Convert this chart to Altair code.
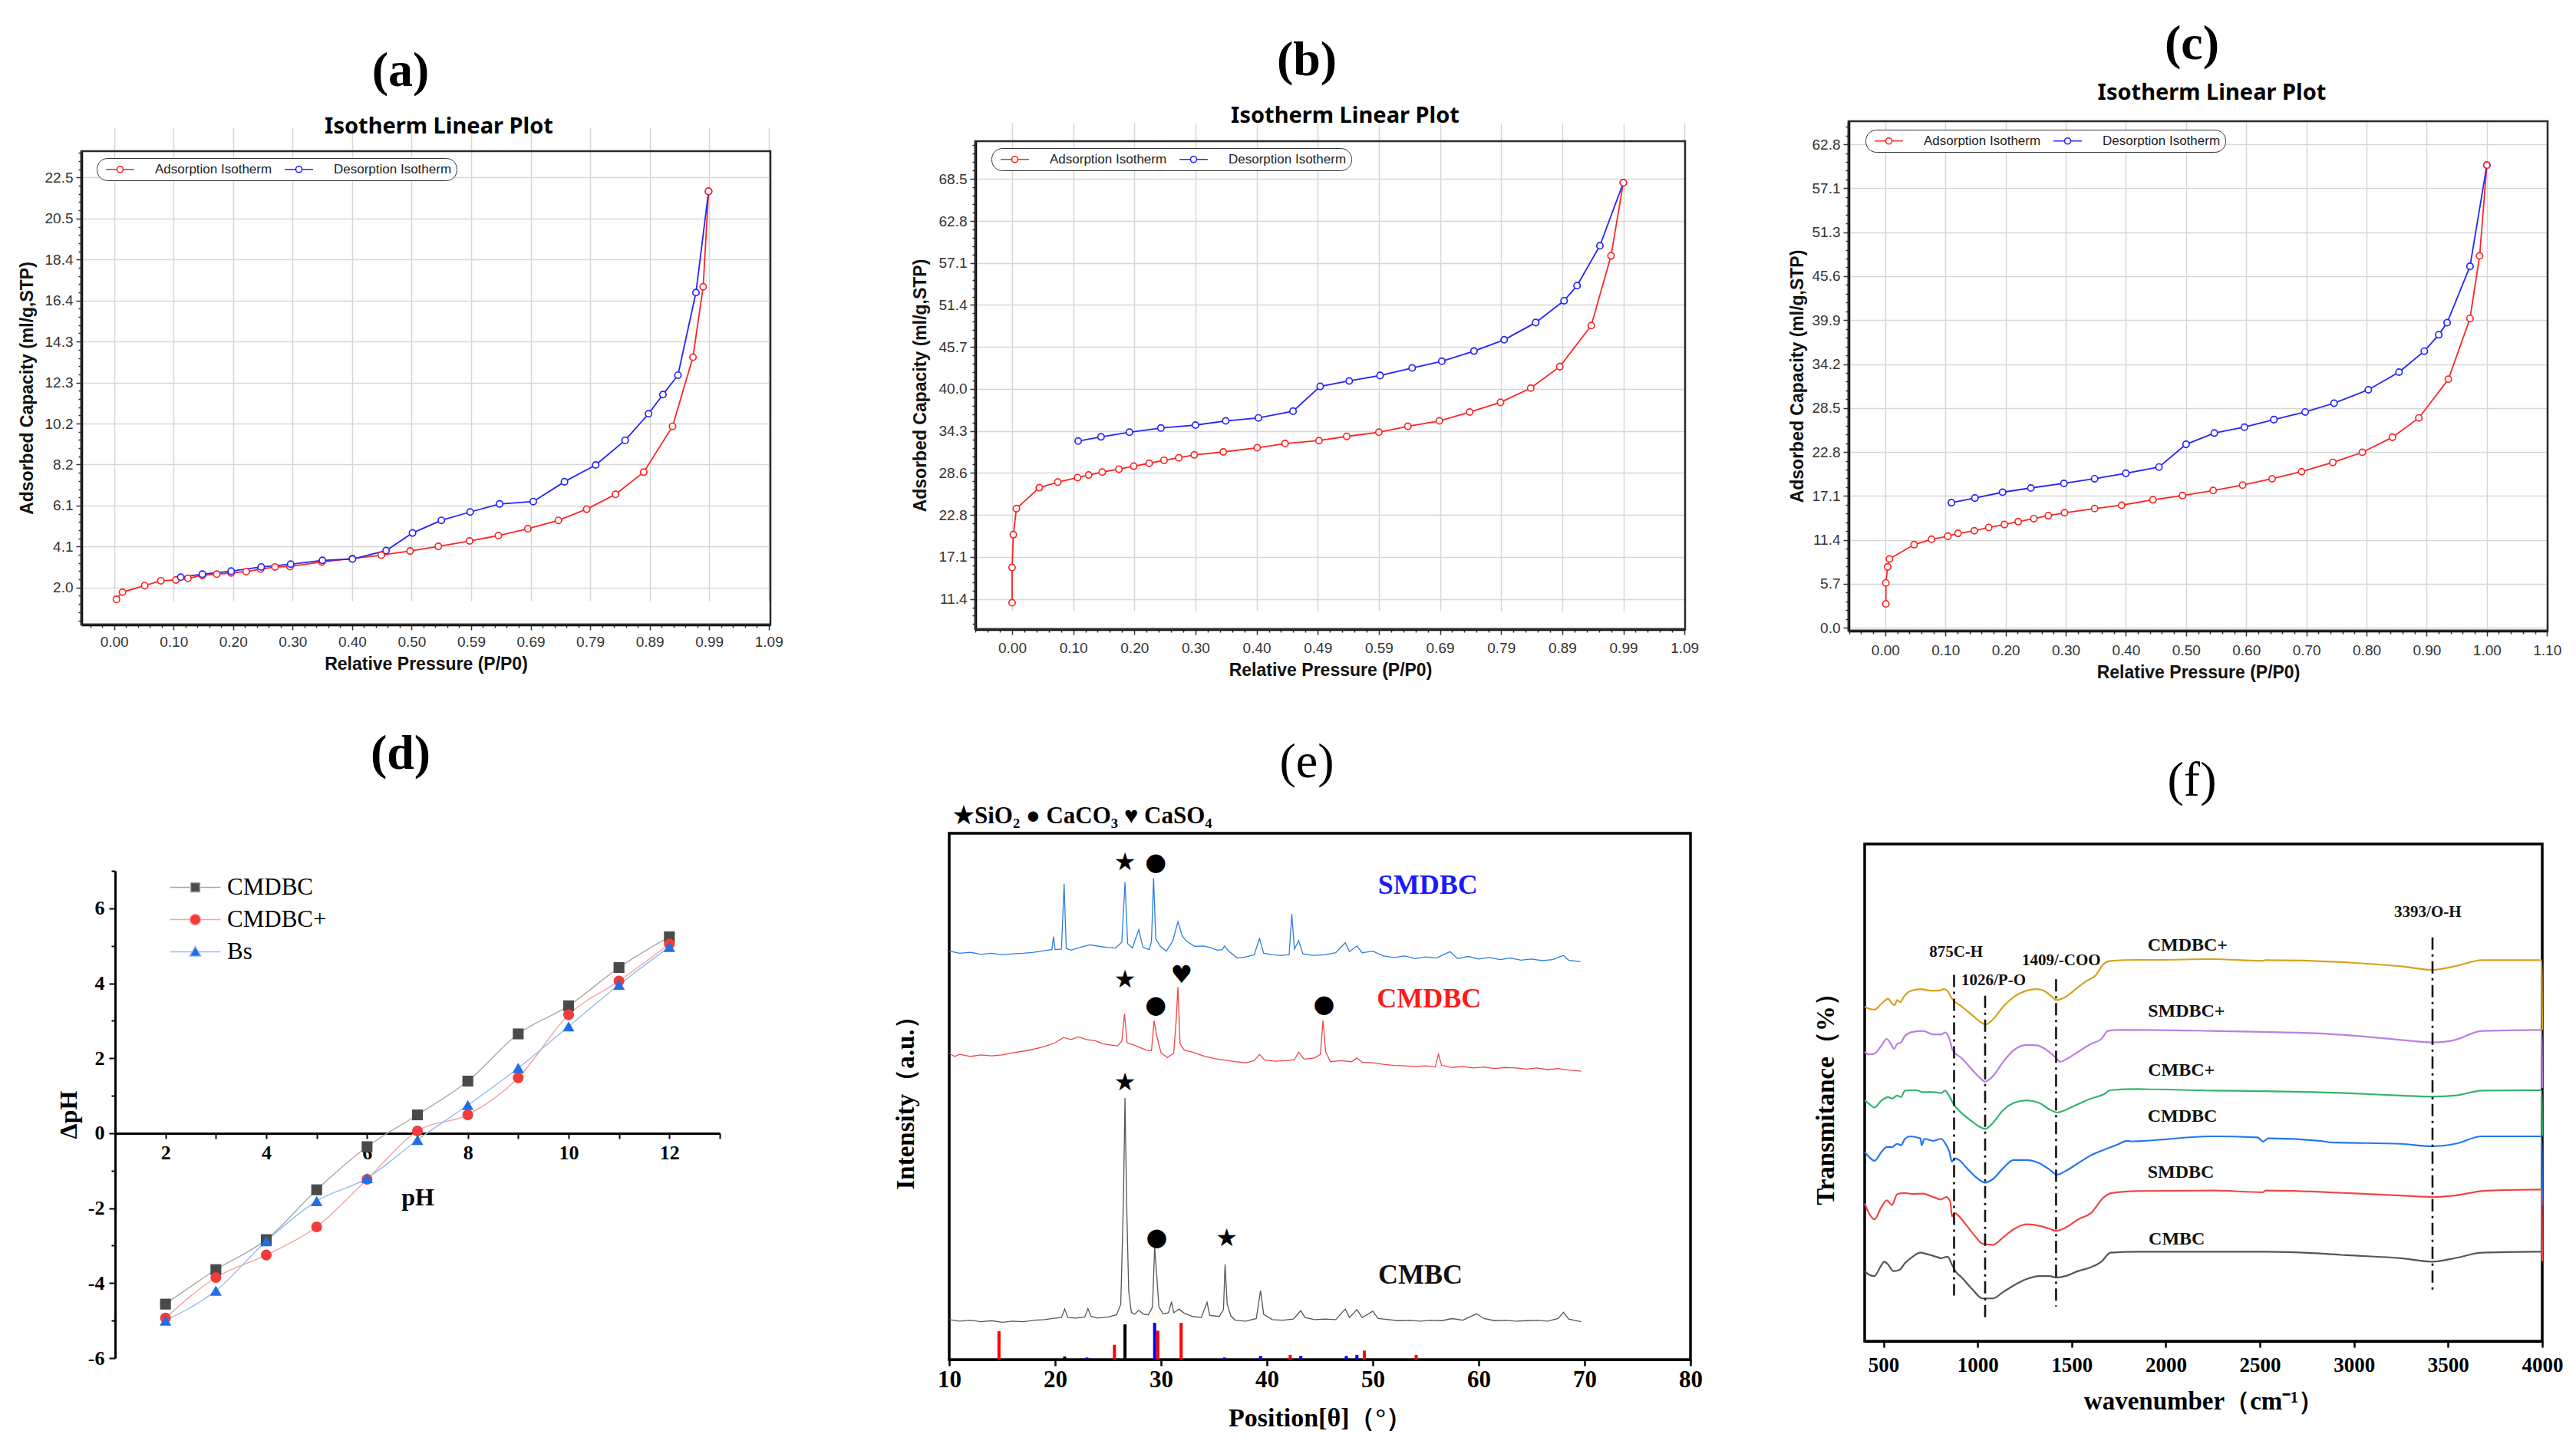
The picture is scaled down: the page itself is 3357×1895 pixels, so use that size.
import math
import altair as alt
import pandas as pd

SERIF = "Liberation Serif"
SANS = "Liberation Sans"

# ============================ DATA ============================
ADS = "Adsorption Isotherm"
DES = "Desorption Isotherm"

# (a)
a_ads_p = [0.004, 0.014, 0.051, 0.078, 0.103, 0.123, 0.147, 0.171, 0.195, 0.220, 0.244, 0.268, 0.293, 0.346, 0.397, 0.445, 0.493, 0.540, 0.592, 0.640, 0.689, 0.740, 0.787, 0.835, 0.882, 0.930, 0.964, 0.981, 0.990]
a_ads_v = [1.41, 1.77, 2.10, 2.34, 2.38, 2.46, 2.61, 2.67, 2.73, 2.80, 2.92, 3.03, 3.05, 3.28, 3.45, 3.62, 3.83, 4.06, 4.33, 4.60, 4.94, 5.36, 5.92, 6.66, 7.77, 10.06, 13.52, 17.04, 21.81]
a_des_p = [0.990, 0.969, 0.939, 0.914, 0.890, 0.851, 0.802, 0.750, 0.698, 0.642, 0.593, 0.545, 0.497, 0.453, 0.397, 0.347, 0.294, 0.245, 0.195, 0.147, 0.111]
a_des_v = [21.81, 16.75, 12.62, 11.65, 10.69, 9.36, 8.13, 7.29, 6.30, 6.18, 5.78, 5.36, 4.73, 3.85, 3.43, 3.36, 3.17, 3.03, 2.82, 2.67, 2.52]
a_x_labels = ["0.00", "0.10", "0.20", "0.30", "0.40", "0.50", "0.59", "0.69", "0.79", "0.89", "0.99", "1.09"]
a_y_labels = ["2.0", "4.1", "6.1", "8.2", "10.2", "12.3", "14.3", "16.4", "18.4", "20.5", "22.5"]

# (b)
b_ads_p = [0.000, 0.000, 0.002, 0.007, 0.044, 0.074, 0.106, 0.124, 0.146, 0.173, 0.197, 0.222, 0.246, 0.270, 0.295, 0.342, 0.397, 0.442, 0.497, 0.542, 0.594, 0.641, 0.692, 0.741, 0.791, 0.840, 0.887, 0.938, 0.970, 0.990]
b_ads_v = [10.89, 15.68, 20.14, 23.68, 26.53, 27.28, 27.90, 28.25, 28.65, 29.05, 29.45, 29.85, 30.25, 30.59, 30.99, 31.39, 31.96, 32.53, 32.93, 33.50, 34.07, 34.87, 35.61, 36.81, 38.13, 40.07, 42.98, 48.58, 58.06, 68.0]
b_des_p = [0.990, 0.952, 0.915, 0.894, 0.848, 0.797, 0.748, 0.696, 0.648, 0.596, 0.546, 0.499, 0.455, 0.399, 0.346, 0.297, 0.241, 0.190, 0.144, 0.107]
b_des_v = [68.0, 59.43, 54.0, 51.95, 48.98, 46.64, 45.1, 43.72, 42.81, 41.78, 41.04, 40.30, 36.93, 36.01, 35.61, 35.04, 34.64, 34.07, 33.44, 32.87]
b_x_labels = ["0.00", "0.10", "0.20", "0.30", "0.40", "0.49", "0.59", "0.69", "0.79", "0.89", "0.99", "1.09"]
b_y_labels = ["11.4", "17.1", "22.8", "28.6", "34.3", "40.0", "45.7", "51.4", "57.1", "62.8", "68.5"]

# (c)
c_ads_p = [0.001, 0.001, 0.004, 0.007, 0.048, 0.077, 0.104, 0.121, 0.148, 0.172, 0.198, 0.221, 0.247, 0.271, 0.298, 0.348, 0.393, 0.445, 0.494, 0.545, 0.594, 0.643, 0.692, 0.744, 0.793, 0.843, 0.887, 0.936, 0.972, 0.988, 1.000]
c_ads_v = [3.11, 5.83, 7.91, 8.94, 10.80, 11.50, 11.89, 12.27, 12.60, 13.03, 13.41, 13.79, 14.18, 14.56, 14.94, 15.49, 15.92, 16.63, 17.18, 17.83, 18.54, 19.36, 20.28, 21.48, 22.79, 24.75, 27.26, 32.28, 40.19, 48.31, 60.09]
c_des_p = [1.000, 0.972, 0.934, 0.920, 0.896, 0.854, 0.803, 0.746, 0.698, 0.646, 0.597, 0.547, 0.500, 0.455, 0.400, 0.348, 0.297, 0.242, 0.195, 0.149, 0.110]
c_des_v = [60.09, 46.95, 39.64, 38.06, 35.93, 33.21, 30.92, 29.17, 28.03, 27.04, 26.06, 25.30, 23.83, 20.88, 20.07, 19.36, 18.76, 18.16, 17.61, 16.85, 16.25]
c_x_labels = ["0.00", "0.10", "0.20", "0.30", "0.40", "0.50", "0.60", "0.70", "0.80", "0.90", "1.00", "1.10"]
c_y_labels = ["0.0", "5.7", "11.4", "17.1", "22.8", "28.5", "34.2", "39.9", "45.6", "51.3", "57.1", "62.8"]

# (d)
d_series = ["CMDBC", "CMDBC+", "Bs"]
d_ph = [2, 3, 4, 5, 6, 7, 8, 9, 10, 11, 12]
d_cmdbc = [-4.56, -3.64, -2.84, -1.51, -0.36, 0.49, 1.39, 2.65, 3.40, 4.42, 5.24]
d_cmdbc_plus = [-4.93, -3.85, -3.25, -2.50, -1.23, 0.06, 0.49, 1.48, 3.16, 4.06, 5.05]
d_bs = [-5.00, -4.20, -2.88, -1.81, -1.20, -0.18, 0.75, 1.74, 2.85, 3.96, 4.97]

# (e) XRD
e_series = ["SMDBC", "CMDBC", "CMBC"]
e_cmbc_x = [10.0, 11.0, 12.0, 13.0, 14.0, 15.0, 16.0, 17.0, 18.0, 19.0, 20.0, 20.6, 20.9, 21.2, 22.0, 22.8, 23.1, 23.4, 24.0, 25.0, 25.8, 26.2, 26.45, 26.6, 26.75, 26.95, 27.2, 27.5, 27.9, 28.3, 28.8, 29.2, 29.4, 29.6, 29.8, 30.2, 30.7, 31.0, 31.2, 31.7, 32.2, 33.0, 33.8, 34.35, 34.6, 35.5, 35.9, 36.05, 36.25, 36.6, 37.0, 38.0, 39.0, 39.4, 39.7, 40.5, 41.5, 42.5, 43.2, 43.6, 44.5, 45.5, 46.5, 47.4, 47.8, 48.5, 49.0, 50.0, 50.5, 51.5, 52.5, 53.5, 54.5, 55.5, 56.5, 57.5, 58.5, 59.8, 60.5, 61.5, 62.5, 63.5, 64.5, 65.5, 66.5, 67.5, 68.0, 68.5, 69.7]
e_cmbc_y = [7.6, 7.3, 7.5, 7.2, 7.4, 7.1, 7.3, 7.2, 7.5, 7.6, 7.9, 8.0, 9.6, 8.0, 7.9, 8.1, 9.7, 8.2, 7.9, 8.1, 8.5, 10.5, 30.0, 49.7, 30.0, 13.0, 9.0, 8.6, 9.4, 8.7, 8.5, 10.0, 21.3, 16.0, 10.0, 8.7, 8.9, 11.0, 8.9, 9.6, 8.8, 8.2, 8.0, 10.9, 8.4, 8.2, 9.5, 18.1, 10.5, 8.3, 7.5, 7.3, 7.8, 13.1, 8.6, 7.6, 7.5, 7.7, 9.3, 8.0, 7.6, 7.7, 7.6, 9.6, 8.0, 9.5, 8.0, 9.2, 7.8, 7.6, 7.4, 7.5, 7.3, 7.5, 7.4, 7.8, 7.5, 8.7, 7.8, 7.4, 7.5, 7.3, 7.4, 7.5, 7.3, 7.8, 9.0, 7.7, 7.2]
e_cmdbc_x = [10.0, 10.5, 11.0, 12.0, 13.0, 14.0, 15.0, 16.0, 17.0, 18.0, 19.0, 20.0, 20.8, 21.5, 22.2, 23.0, 23.8, 24.5, 25.2, 25.9, 26.3, 26.55, 26.8, 27.4, 28.0, 28.6, 29.1, 29.35, 29.6, 30.0, 30.6, 31.2, 31.45, 31.6, 31.8, 32.2, 33.0, 34.0, 35.0, 36.0, 37.0, 38.0, 38.8, 39.3, 39.8, 40.8, 41.8, 42.6, 43.0, 43.5, 44.5, 45.05, 45.3, 45.55, 46.0, 47.0, 48.0, 48.5, 49.0, 50.0, 51.0, 52.0, 53.0, 54.0, 55.0, 55.9, 56.2, 56.5, 57.5, 58.5, 59.5, 60.5, 61.5, 62.5, 63.5, 64.5, 65.5, 66.5, 67.5, 68.5, 69.7]
e_cmdbc_y = [58.2, 57.6, 58.0, 57.6, 57.9, 57.7, 57.9, 58.3, 58.6, 59.0, 59.5, 60.2, 61.2, 60.8, 61.3, 60.8, 60.6, 60.0, 59.8, 59.6, 60.5, 65.7, 60.2, 59.8, 59.3, 58.8, 58.7, 64.4, 61.5, 58.3, 57.4, 58.2, 65.0, 70.8, 60.0, 58.8, 58.4, 57.7, 57.2, 56.9, 56.6, 56.4, 56.8, 58.0, 56.9, 56.7, 56.8, 57.0, 58.4, 57.1, 57.3, 58.0, 64.4, 58.5, 56.6, 56.8, 56.6, 57.3, 56.5, 56.4, 56.1, 55.9, 55.8, 55.7, 55.8, 55.6, 58.0, 55.9, 55.5, 55.7, 55.4, 55.6, 55.3, 55.5, 55.4, 55.2, 55.4, 55.1, 55.3, 55.0, 54.8]
e_smdbc_x = [10.0, 11.0, 12.0, 13.0, 14.0, 15.0, 16.0, 17.0, 18.0, 19.0, 19.7, 19.85, 20.0, 20.6, 20.85, 21.05, 21.5, 22.3, 23.3, 24.2, 25.0, 25.7, 26.3, 26.6, 26.85, 27.3, 27.9, 28.3, 28.9, 29.1, 29.3, 29.5, 29.9, 30.5, 31.1, 31.6, 32.0, 32.4, 33.2, 34.0, 34.8, 35.3, 35.8, 36.0, 36.4, 37.2, 38.0, 38.8, 39.3, 39.7, 40.5, 41.3, 42.1, 42.35, 42.6, 43.0, 43.4, 44.3, 45.5, 46.5, 47.4, 47.8, 48.5, 49.0, 50.0, 51.0, 52.0, 53.0, 54.0, 55.0, 56.0, 57.3, 58.0, 59.0, 60.0, 61.0, 62.0, 63.0, 64.0, 65.0, 66.0, 67.0, 68.0, 68.5, 69.6]
e_smdbc_y = [77.6, 77.2, 77.4, 77.0, 77.2, 76.9, 77.1, 77.2, 77.4, 77.7, 77.9, 80.4, 77.9, 78.0, 90.4, 78.1, 77.8, 78.3, 78.8, 78.5, 78.3, 78.2, 79.3, 90.7, 79.0, 78.2, 81.7, 78.3, 77.9, 79.5, 91.5, 80.0, 78.6, 77.6, 79.5, 83.2, 80.5, 79.5, 78.5, 78.6, 78.2, 77.8, 77.9, 78.6, 77.6, 76.3, 76.5, 76.9, 80.0, 77.2, 76.9, 76.8, 76.9, 84.6, 78.0, 79.6, 77.1, 76.8, 76.9, 77.3, 79.2, 77.5, 78.6, 77.3, 77.6, 76.7, 76.4, 76.7, 76.2, 76.5, 76.3, 77.5, 76.2, 76.6, 76.1, 76.4, 76.0, 76.3, 75.9, 76.1, 75.8, 76.0, 76.8, 75.9, 75.6]
e_stick_x = [14.7, 20.9, 23.0, 25.6, 26.6, 29.4, 29.7, 31.9, 36.0, 39.4, 42.2, 43.2, 47.5, 48.5, 49.2, 54.1]
e_stick_h = [5.4, 0.6, 0.4, 2.8, 6.7, 7.0, 5.5, 7.0, 0.4, 0.7, 0.9, 0.7, 0.7, 0.9, 1.7, 0.9]
e_stick_phase = ["CaSO4", "SiO2", "CaCO3", "CaSO4", "SiO2", "CaCO3", "CaSO4", "CaSO4", "CaCO3", "CaCO3", "CaSO4", "CaCO3", "CaCO3", "CaCO3", "CaSO4", "CaSO4"]
e_mark_x = [26.6, 29.5, 26.6, 31.95, 29.5, 45.4, 26.6, 29.6, 36.2]
e_mark_y = [94.5, 94.5, 72.2, 73.1, 67.3, 67.5, 52.6, 23.2, 23.0]
e_mark_g = ["★", "●", "★", "♥", "●", "●", "★", "●", "★"]
e_label_x = [55.2, 55.3, 54.5]
e_label_y = [90.1, 68.5, 16.0]
e_label_color = ["#1a1aff", "#ff1a1a", "#111111"]
e_header = "★SiO₂ ● CaCO₃ ♥  CaSO₄"

# (f) FTIR
f_series = ["CMDBC+", "SMDBC+", "CMBC+", "CMDBC", "SMDBC", "CMBC"]
f_cmdbcp_x = [400, 422, 452, 490, 525, 545, 559, 573, 589, 607, 641, 696, 751, 793, 820, 841, 864, 916, 971, 1012, 1043, 1081, 1136, 1191, 1260, 1315, 1356, 1397, 1418, 1466, 1521, 1576, 1630, 1665, 1706, 1850, 1955, 2243, 2516, 2530, 2961, 3249, 3417, 3536, 3680, 3996, 4000]
f_cmdbcp_y = [67.3, 66.9, 66.7, 67.9, 68.9, 67.9, 67.6, 68.6, 68.2, 69.2, 70.4, 70.8, 70.5, 70.5, 70.8, 70.4, 68.9, 67.3, 65.6, 64.3, 63.7, 64.7, 67.3, 69.2, 70.5, 70.8, 70.4, 69.2, 68.6, 69.2, 70.8, 72.4, 73.7, 75.7, 76.5, 76.7, 76.7, 76.85, 76.5, 76.65, 76.2, 75.4, 74.7, 75.4, 76.65, 76.65, 62.6]
f_smdbcp_x = [400, 422, 452, 490, 518, 539, 556, 573, 593, 614, 655, 710, 765, 806, 827, 848, 868, 916, 971, 1012, 1040, 1081, 1136, 1191, 1260, 1315, 1369, 1418, 1438, 1479, 1534, 1603, 1658, 1692, 1740, 1850, 2243, 2516, 2817, 2961, 3249, 3417, 3536, 3680, 3996, 4000]
f_smdbcp_y = [58.2, 57.7, 57.85, 59.5, 60.8, 59.8, 58.8, 59.8, 60.1, 61.4, 62.2, 62.4, 61.7, 61.7, 62.1, 61.1, 58.5, 56.9, 54.6, 53.0, 52.2, 53.3, 56.2, 58.5, 59.6, 59.5, 58.5, 56.9, 56.2, 56.9, 58.2, 59.8, 60.8, 62.4, 62.6, 62.6, 62.4, 62.2, 61.9, 61.55, 60.6, 60.1, 60.6, 62.4, 62.6, 50.9]
f_cmbcp_x = [400, 422, 452, 490, 525, 545, 573, 593, 614, 669, 710, 765, 806, 827, 848, 872, 916, 971, 1012, 1040, 1081, 1136, 1191, 1260, 1328, 1383, 1424, 1466, 1534, 1603, 1672, 1706, 1850, 2243, 2516, 2961, 3249, 3417, 3536, 3680, 3996, 4000]
f_cmbcp_y = [48.45, 47.8, 47.0, 48.45, 49.1, 48.8, 49.4, 49.1, 50.4, 50.5, 50.1, 50.1, 49.9, 50.4, 49.4, 47.7, 45.85, 44.2, 43.1, 42.7, 43.9, 46.5, 47.9, 48.45, 47.9, 46.6, 46.0, 46.5, 47.7, 48.8, 49.7, 50.5, 50.7, 50.4, 50.3, 49.9, 49.4, 49.2, 49.4, 50.4, 50.5, 41.3]
f_cmdbc_x = [400, 422, 452, 490, 518, 545, 573, 593, 614, 641, 696, 703, 717, 765, 806, 834, 850, 864, 878, 902, 943, 985, 1040, 1081, 1136, 1191, 1260, 1328, 1383, 1421, 1466, 1534, 1603, 1685, 1740, 1795, 1812, 2243, 2488, 2516, 2545, 2817, 2875, 3249, 3417, 3536, 3680, 3996, 4000]
f_cmdbc_y = [38.1, 37.1, 36.3, 38.1, 39.05, 39.05, 39.7, 39.4, 40.7, 41.2, 40.8, 39.4, 40.7, 40.3, 40.7, 39.4, 38.1, 36.1, 36.8, 36.45, 34.8, 33.2, 31.9, 32.6, 34.8, 36.45, 36.45, 35.8, 34.5, 33.5, 34.2, 35.8, 37.4, 38.7, 39.5, 40.3, 40.2, 41.2, 41.0, 40.15, 40.8, 40.3, 40.0, 39.7, 39.2, 39.7, 41.2, 41.2, 27.3]
f_smdbc_x = [400, 422, 452, 490, 518, 545, 573, 614, 655, 710, 765, 806, 834, 855, 864, 878, 902, 943, 985, 1026, 1081, 1136, 1191, 1260, 1328, 1383, 1418, 1466, 1534, 1603, 1672, 1713, 1850, 2243, 2516, 2530, 2961, 3249, 3417, 3536, 3680, 3823, 3996, 4000]
f_smdbc_y = [27.7, 25.8, 24.5, 27.05, 28.35, 27.4, 29.6, 29.8, 29.6, 29.7, 29.0, 28.5, 29.0, 28.0, 25.1, 25.8, 25.1, 23.2, 21.2, 19.6, 19.4, 20.9, 22.5, 23.5, 23.2, 22.6, 22.2, 22.8, 24.5, 25.8, 29.0, 29.8, 30.2, 30.3, 29.97, 30.3, 29.8, 29.3, 29.0, 29.3, 30.2, 30.4, 30.5, 16.1]
f_cmbc_x = [400, 422, 452, 483, 504, 525, 552, 587, 614, 655, 696, 737, 779, 806, 841, 864, 882, 916, 971, 1026, 1081, 1136, 1191, 1260, 1328, 1383, 1418, 1466, 1534, 1603, 1658, 1706, 1850, 2243, 2530, 2817, 2961, 3249, 3417, 3536, 3680, 3996]
f_cmbc_y = [14.1, 13.4, 13.1, 14.9, 16.0, 15.4, 14.1, 14.4, 15.7, 17.0, 17.8, 17.45, 17.0, 16.7, 17.0, 15.4, 14.1, 12.8, 10.5, 8.6, 8.6, 9.9, 11.2, 12.5, 13.1, 13.1, 12.8, 13.1, 14.1, 14.9, 16.0, 17.8, 18.0, 18.0, 18.0, 17.65, 17.3, 16.7, 16.0, 16.7, 17.8, 18.0]
f_line_x = [875, 1040, 1417, 3417]
f_line_top = [73.7, 69.5, 72.8, 81.2]
f_line_bot = [9.2, 4.7, 7.0, 9.5]
f_ann_text = ["875C-H", "1026/P-O", "1409/-COO", "3393/O-H"]
f_ann_x = [886, 1085, 1445, 3392]
f_ann_y = [78.3, 72.6, 76.5, 86.2]
f_lab_x = [1903, 1905, 1905, 1903, 1903, 1909]
f_lab_y = [79.7, 66.3, 54.5, 45.2, 33.9, 20.6]


# ============================ HELPERS ============================
def mm_axis(start, step, labels, dom, sub, major_tick=7, minor_tick=4, **kw):
    minor = step / sub
    k0 = math.ceil((dom[0] - start) / minor - 1e-9)
    k1 = math.floor((dom[1] - start) / minor + 1e-9)
    vals = [round(start + k * minor, 6) for k in range(k0, k1 + 1)]
    idx = f"((datum.value - ({start})) / {step})"
    test = f"abs({idx} - round({idx})) < 0.01"
    arr = "[" + ",".join("'" + s + "'" for s in labels) + "]"
    return alt.Axis(
        values=vals,
        labelExpr=f"{test} ? {arr}[round({idx})] : ''",
        gridOpacity={"condition": {"test": test, "value": 1}, "value": 0},
        tickSize={"condition": {"test": test, "value": major_tick}, "value": minor_tick},
        **kw,
    )


def frame(xsc, xax, ysc, yax, xdom, ydom, color, width):
    df = pd.DataFrame({"fx0": [xdom[0]], "fx1": [xdom[1]], "fy0": [ydom[0]], "fy1": [ydom[1]]})
    return alt.Chart(df).mark_rect(filled=False, color=color, strokeWidth=width).encode(
        x=alt.X("fx0:Q", scale=xsc, axis=xax), x2="fx1:Q",
        y=alt.Y("fy0:Q", scale=ysc, axis=yax), y2="fy1:Q",
    )


ISO_AX = dict(grid=True, gridColor="#d6d6d6", gridWidth=1.5, domainColor="black", domainWidth=3.5,
              tickColor="#333333", tickWidth=1.5, labelFont=SANS, labelFontSize=19, labelColor="#333333",
              labelFlush=False, labelOverlap=False, titleFont=SANS, titleFontSize=23,
              titleFontWeight="bold", titleColor="#111111")

LEG_PATH = "M-4.6,0H-1M1,0H4.6M1,0A1,1,0,1,1,-1,0A1,1,0,1,1,1,0"


def iso_panel(key, ads_p, ads_v, des_p, des_v, xs, ys, cw, ch, xr, yr, xoff, yoff,
              dx, toff, lx, ly, xlp, xtp, ytp):
    rows = [{"p": p, "v": v, key: ADS, "i": i} for i, (p, v) in enumerate(zip(ads_p, ads_v))]
    rows += [{"p": p, "v": v, key: DES, "i": i} for i, (p, v) in enumerate(zip(des_p, des_v))]
    df = pd.DataFrame(rows)
    xax = mm_axis(xs[0], xs[1], xs[2], xs[3], 5, labelPadding=xlp, title="Relative Pressure (P/P0)",
                  titlePadding=xtp, offset=xoff, **ISO_AX)
    yax = mm_axis(ys[0], ys[1], ys[2], ys[3], 5, labelPadding=4, title="Adsorbed Capacity (ml/g,STP)",
                  titlePadding=ytp, offset=yoff, **ISO_AX)
    xsc = alt.Scale(domain=xs[3], range=xr, nice=False, zero=False)
    ysc = alt.Scale(domain=ys[3], range=yr, nice=False, zero=False)
    leg = alt.Legend(title=None, orient="none", legendX=lx, legendY=ly, direction="horizontal", columns=2,
                     symbolType=LEG_PATH, symbolSize=64, symbolStrokeWidth=1.6, symbolFillColor="white",
                     symbolOffset=16, labelOffset=37, labelFont=SANS, labelFontSize=17, labelColor="#222222",
                     padding=6, cornerRadius=14, strokeColor="#333333", fillColor="white",
                     columnPadding=10, labelLimit=400, symbolOpacity=1)
    lines = alt.Chart(df).mark_line(
        strokeWidth=1.8,
        point=alt.OverlayMarkDef(filled=False, fill="white", size=70, strokeWidth=1.7, opacity=1),
    ).encode(
        x=alt.X("p:Q", scale=xsc, axis=xax),
        y=alt.Y("v:Q", scale=ysc, axis=yax),
        color=alt.Color(f"{key}:N", scale=alt.Scale(domain=[ADS, DES], range=["#ff2424", "#2424ff"]), legend=leg),
        order=alt.Order("i:Q"),
    )
    box = frame(xsc, xax, ysc, yax, xs[3], ys[3], "#2a2a2a", 2.5)
    return alt.layer(box, lines).properties(
        width=cw, height=ch,
        title=alt.Title("Isotherm Linear Plot", font="Noto Sans", fontSize=29, fontWeight="bold",
                        color="black", anchor="middle", frame="group", dx=dx, offset=toff),
    )


# ============================ PANELS (a)(b)(c) ============================
# cell a: x 103-1001, y 155-819 ; plot x 103-1001, y 194-811
panel_a = iso_panel("sa", a_ads_p, a_ads_v, a_des_p, a_des_v,
                    (0.0, 0.0991, a_x_labels, [-0.0545, 1.093]),
                    (2.0, 2.05, a_y_labels, [0.15, 23.82]),
                    898, 664, [0, 898], [656, 39], -8, 0,
                    17, -22, 20, 48, 6, 8, 11)
# cell b: x 1234-2200, y 155-819 ; plot x 1268-2193, y 181-817
panel_b = iso_panel("sb", b_ads_p, b_ads_v, b_des_p, b_des_v,
                    (0.0, 0.099, b_x_labels, [-0.0596, 1.09]),
                    (11.4, 5.71, b_y_labels, [7.29, 73.64]),
                    966, 664, [34, 959], [662, 26], -2, -34,
                    33, -8, 55, 35, 8, 8, 12)
# cell c: x 2406-3317, y 155-819 ; plot fills cell
panel_c = iso_panel("sc", c_ads_p, c_ads_v, c_des_p, c_des_v,
                    (0.0, 0.1, c_x_labels, [-0.061, 1.101]),
                    (0.0, 5.709, c_y_labels, [-0.38, 65.8]),
                    911, 664, [0, 911], [664, 0], 0, 0,
                    18, 20, 22, 11, 9, 8, 7)

# ============================ PANEL (d) ============================
# cell d: x 103-1001, y 1083-1769 ; plot x 147-935, y 1132-1767
D_CW, D_CH = 898, 686
D_YR = [684, 49]
zero_px = D_YR[1] + (7 / 13) * (D_YR[0] - D_YR[1])
d_rows = []
for name, vals in zip(d_series, [d_cmdbc, d_cmdbc_plus, d_bs]):
    for x, v in zip(d_ph, vals):
        d_rows.append({"x": x, "v": v, "sd": name})
d_df = pd.DataFrame(d_rows)
D_MARK = ["#4a4a4a", "#f23b3b", "#1f6fe5"]
D_LINE = ["#a8a8a8", "#f6a3a3", "#93baf3"]
D_SHAPE = ["square", "circle", "triangle-up"]
D_LEG = [
    "M-4.7,0H-1M1,0H4.7M-0.85,-0.85H0.85V0.85H-0.85Z",
    "M-4.7,0H-1M1,0H4.7M1,0A1,1,0,1,1,-1,0A1,1,0,1,1,1,0Z",
    "M-4.7,0H-0.6M0.6,0H4.7M-1.05,0.8L0,-1L1.05,0.8Z",
]
d_x = alt.X("x:Q", scale=alt.Scale(domain=[1, 13], range=[44, 832], nice=False, zero=False),
            axis=alt.Axis(values=list(range(1, 14)),
                          labelExpr="datum.value % 2 == 0 && datum.value >= 2 && datum.value <= 12 ? toString(datum.value) : ''",
                          offset=-(D_CH - zero_px), tickSize=7, tickWidth=2, tickColor="black",
                          domainColor="black", domainWidth=3, labelFont=SERIF, labelFontSize=26,
                          labelFontWeight="bold", labelColor="black", labelPadding=6, labelFlush=False,
                          labelOverlap=False, grid=False, title="pH", titleFont=SERIF, titleFontSize=32,
                          titleFontWeight="bold", titleColor="black", titleY=84, titleBaseline="middle"))
d_y = alt.Y("v:Q", scale=alt.Scale(domain=[-6, 7], range=D_YR, nice=False, zero=False),
            axis=alt.Axis(values=list(range(-6, 8)),
                          labelExpr="datum.value % 2 == 0 && datum.value <= 6 ? toString(datum.value) : ''",
                          tickSize={"condition": {"test": "datum.value % 2 == 0", "value": 8}, "value": 5},
                          offset=-44, tickWidth=2, tickColor="black", domainColor="black", domainWidth=3,
                          labelFont=SERIF, labelFontSize=26, labelFontWeight="bold", labelColor="black",
                          labelPadding=6, labelFlush=False, labelOverlap=False, grid=False,
                          title="ΔpH", titleFont=SERIF, titleFontSize=32, titleFontWeight="bold",
                          titleColor="black", titlePadding=8))
d_layers = []
for name, mc, lc, sh in zip(d_series, D_MARK, D_LINE, D_SHAPE):
    base = alt.Chart(d_df).transform_filter(alt.datum.sd == name)
    d_layers.append(base.mark_line(color=lc, strokeWidth=1.4, interpolate="monotone").encode(x=d_x, y=d_y))
for name, mc, lc, sh in zip(d_series, D_MARK, D_LINE, D_SHAPE):
    base = alt.Chart(d_df).transform_filter(alt.datum.sd == name)
    d_layers.append(base.mark_point(shape=sh, filled=True, color=mc, size=200 if sh != "triangle-up" else 230,
                                    opacity=1).encode(x=d_x, y=d_y))
d_leg = alt.Legend(title=None, orient="none", legendX=94, legendY=55, symbolSize=196, symbolStrokeWidth=1.4,
                   symbolOffset=39, labelOffset=26, labelFont=SERIF, labelFontSize=31, labelColor="black",
                   rowPadding=10, padding=0, symbolOpacity=1, labelLimit=300)
d_layers.append(
    alt.Chart(d_df).transform_filter("false").mark_point(filled=True, opacity=1, size=196, strokeWidth=1.4).encode(
        x=d_x, y=d_y,
        fill=alt.Fill("sd:N", scale=alt.Scale(domain=d_series, range=D_MARK), legend=d_leg),
        stroke=alt.Stroke("sd:N", scale=alt.Scale(domain=d_series, range=D_LINE), legend=d_leg),
        shape=alt.Shape("sd:N", scale=alt.Scale(domain=d_series, range=D_LEG), legend=d_leg),
    )
)
panel_d = alt.layer(*d_layers).properties(
    width=D_CW, height=D_CH,
    title=alt.Title("(d)", font=SERIF, fontSize=64, fontWeight="bold", color="black", anchor="middle",
                    frame="group", dx=-33, offset=71),
)

# ============================ PANEL (e) ============================
# cell e: x 1234-2200, y 1083-1769 ; plot fills cell
E_CW, E_CH = 966, 686
e_rows = []
for name, xs, ys in zip(e_series, [e_smdbc_x, e_cmdbc_x, e_cmbc_x], [e_smdbc_y, e_cmdbc_y, e_cmbc_y]):
    for i, (x, y) in enumerate(zip(xs, ys)):
        e_rows.append({"x": x, "v": y, "se": name, "i": i})
e_df = pd.DataFrame(e_rows)
e_stick_df = pd.DataFrame({"x": e_stick_x, "v": [0.0] * len(e_stick_x), "h": e_stick_h, "ph": e_stick_phase})
e_mark_df = pd.DataFrame({"x": e_mark_x, "v": e_mark_y, "g": e_mark_g})
e_head_df = pd.DataFrame({"x": [10.36], "v": [103.2], "t": [e_header]})

e_xsc = alt.Scale(domain=[10, 80], range=[0, E_CW], nice=False, zero=False)
e_xax = alt.Axis(values=list(range(10, 81, 10)), tickSize=8, tickWidth=2.5, tickColor="black",
                 domainColor="black", domainWidth=3, labelFont=SERIF, labelFontSize=31,
                 labelFontWeight="bold", labelColor="black", labelPadding=3, labelFlush=False,
                 labelOverlap=False, grid=False, title="Position[θ]（°）", titleFont=SERIF,
                 titleFontSize=34, titleFontWeight="bold", titleColor="black", titlePadding=18)
e_ysc = alt.Scale(domain=[0, 100], range=[E_CH, 0], nice=False, zero=False)
e_yax = alt.Axis(labels=False, ticks=False, domain=False, grid=False, title="Intensity（a.u.）",
                 titleFont=SERIF, titleFontSize=33, titleFontWeight="bold", titleColor="black",
                 titlePadding=40)
e_x = alt.X("x:Q", scale=e_xsc, axis=e_xax)
e_y = alt.Y("v:Q", scale=e_ysc, axis=e_yax)
e_layers = [frame(e_xsc, e_xax, e_ysc, e_yax, [10, 80], [0, 100], "black", 3.5)]
e_layers.append(alt.Chart(e_df).mark_line(strokeWidth=1.3).encode(
    x=e_x, y=e_y,
    color=alt.Color("se:N", scale=alt.Scale(domain=e_series, range=["#2b7de0", "#f04444", "#555555"]), legend=None),
    order=alt.Order("i:Q"),
))
e_layers.append(alt.Chart(e_stick_df).mark_rule(strokeWidth=4).encode(
    x=e_x, y=e_y, y2="h:Q",
    stroke=alt.Stroke("ph:N", scale=alt.Scale(domain=["SiO2", "CaCO3", "CaSO4"], range=["#000000", "#0000ff", "#ff0000"]), legend=None),
))
e_layers.append(alt.Chart(e_mark_df).mark_text(font="DejaVu Sans", fontSize=32, color="black").encode(
    x=e_x, y=e_y, text="g:N"))
for name, lx_, ly_, lc_ in zip(e_series, e_label_x, e_label_y, e_label_color):
    e_layers.append(alt.Chart(pd.DataFrame({"x": [lx_], "v": [ly_], "t": [name]})).mark_text(
        font=SERIF, fontSize=36, fontWeight="bold", color=lc_).encode(x=e_x, y=e_y, text="t:N"))
e_layers.append(alt.Chart(e_head_df).mark_text(font=SERIF, fontSize=31, fontWeight="bold", align="left",
                                               color="black").encode(x=e_x, y=e_y, text="t:N"))
panel_e = alt.layer(*e_layers).properties(
    width=E_CW, height=E_CH,
    title=alt.Title("(e)", font=SERIF, fontSize=64, fontWeight="normal", color="black", anchor="middle",
                    frame="group", dx=-17, offset=22),
)

# ============================ PANEL (f) ============================
# cell f: x 2406-3317, y 1083-1769 ; plot x 2427-3310, y 1097-1745
F_CW, F_CH = 911, 686
f_rows = []
for name, xs, ys in zip(f_series,
                        [f_cmdbcp_x, f_smdbcp_x, f_cmbcp_x, f_cmdbc_x, f_smdbc_x, f_cmbc_x],
                        [f_cmdbcp_y, f_smdbcp_y, f_cmbcp_y, f_cmdbc_y, f_smdbc_y, f_cmbc_y]):
    for i, (x, y) in enumerate(zip(xs, ys)):
        f_rows.append({"x": x, "v": y, "sf": name, "i": i})
f_df = pd.DataFrame(f_rows)
f_line_df = pd.DataFrame({"x": f_line_x, "v": f_line_top, "b": f_line_bot})
f_ann_df = pd.DataFrame({"x": f_ann_x, "v": f_ann_y, "t": f_ann_text})
f_lab_df = pd.DataFrame({"x": f_lab_x, "v": f_lab_y, "t": f_series})

f_xsc = alt.Scale(domain=[400, 4000], range=[21, 904], nice=False, zero=False)
f_xax = alt.Axis(values=list(range(500, 4001, 500)), format="d", tickSize=8, tickWidth=2.5, tickColor="black",
                 offset=-24, domainColor="black", domainWidth=3, labelFont=SERIF, labelFontSize=27,
                 labelFontWeight="bold", labelColor="black", labelPadding=10, labelFlush=False,
                 labelOverlap=False, grid=False, title="wavenumber（cm⁻¹）", titleFont=SERIF,
                 titleFontSize=33, titleFontWeight="bold", titleColor="black", titlePadding=18)
f_ysc = alt.Scale(domain=[0, 100], range=[662, 14], nice=False, zero=False)
f_yax = alt.Axis(labels=False, ticks=False, domain=False, grid=False, title="Transmitance（%）",
                 offset=-21, titleFont=SERIF, titleFontSize=33, titleFontWeight="bold",
                 titleColor="black", titlePadding=34)
f_x = alt.X("x:Q", scale=f_xsc, axis=f_xax)
f_y = alt.Y("v:Q", scale=f_ysc, axis=f_yax)
f_layers = [frame(f_xsc, f_xax, f_ysc, f_yax, [400, 4000], [0, 100], "black", 3.5)]
f_layers.append(alt.Chart(f_df).mark_line(strokeWidth=2.2, interpolate="monotone").encode(
    x=f_x, y=f_y,
    color=alt.Color("sf:N", scale=alt.Scale(domain=f_series, range=["#d6a21c", "#b97fe2", "#35b36c", "#2377ec", "#f04646", "#555555"]), legend=None),
    order=alt.Order("i:Q"),
))
f_layers.append(alt.Chart(f_line_df).mark_rule(strokeWidth=2.6, color="#111111", strokeDash=[16, 6, 3, 6]).encode(
    x=f_x, y=f_y, y2="b:Q"))
f_layers.append(alt.Chart(f_ann_df).mark_text(font=SERIF, fontSize=21, fontWeight="bold", color="#111111").encode(
    x=f_x, y=f_y, text="t:N"))
f_layers.append(alt.Chart(f_lab_df).mark_text(font=SERIF, fontSize=24, fontWeight="bold", color="#111111",
                                              align="left").encode(x=f_x, y=f_y, text="t:N"))
panel_f = alt.layer(*f_layers).properties(
    width=F_CW, height=F_CH,
    title=alt.Title("(f)", font=SERIF, fontSize=64, fontWeight="normal", color="black", anchor="middle",
                    frame="group", dx=-8, offset=36),
)

# ============================ LAYOUT ============================
SP_DF = pd.DataFrame({"z": [0]})


def spacer(w, h, title=None):
    props = dict(width=w, height=h)
    if title is not None:
        props["title"] = title
    return alt.Chart(SP_DF).mark_point(opacity=0).encode(x=alt.value(0), y=alt.value(0)).properties(**props)


def letter(text, dx, offset):
    return alt.Title(text, font=SERIF, fontSize=64, fontWeight="bold", color="black", anchor="middle",
                     frame="group", dx=dx, offset=offset)


cells = [
    spacer(103, 155), spacer(898, 155, letter("(a)", -33, -125)), spacer(233, 1),
    spacer(966, 155, letter("(b)", -17, -111)), spacer(206, 1), spacer(911, 155, letter("(c)", -8, -90)),
    spacer(103, 1), panel_a, spacer(233, 1), panel_b, spacer(206, 1), panel_c,
    spacer(1, 264), spacer(1, 1), spacer(1, 1), spacer(1, 1), spacer(1, 1), spacer(1, 1),
    spacer(1, 1), panel_d, spacer(1, 1), panel_e, spacer(1, 1), panel_f,
]

chart = alt.concat(*cells, columns=6, spacing=0, bounds="flush", align="each").properties(
    padding=0
).resolve_scale(
    color="independent", fill="independent", stroke="independent", shape="independent"
).resolve_legend(
    color="independent", fill="independent", stroke="independent", shape="independent"
).configure(background="white").configure_view(stroke=None)

chart.save("out.html", embed_options={"renderer": "svg", "actions": False})
